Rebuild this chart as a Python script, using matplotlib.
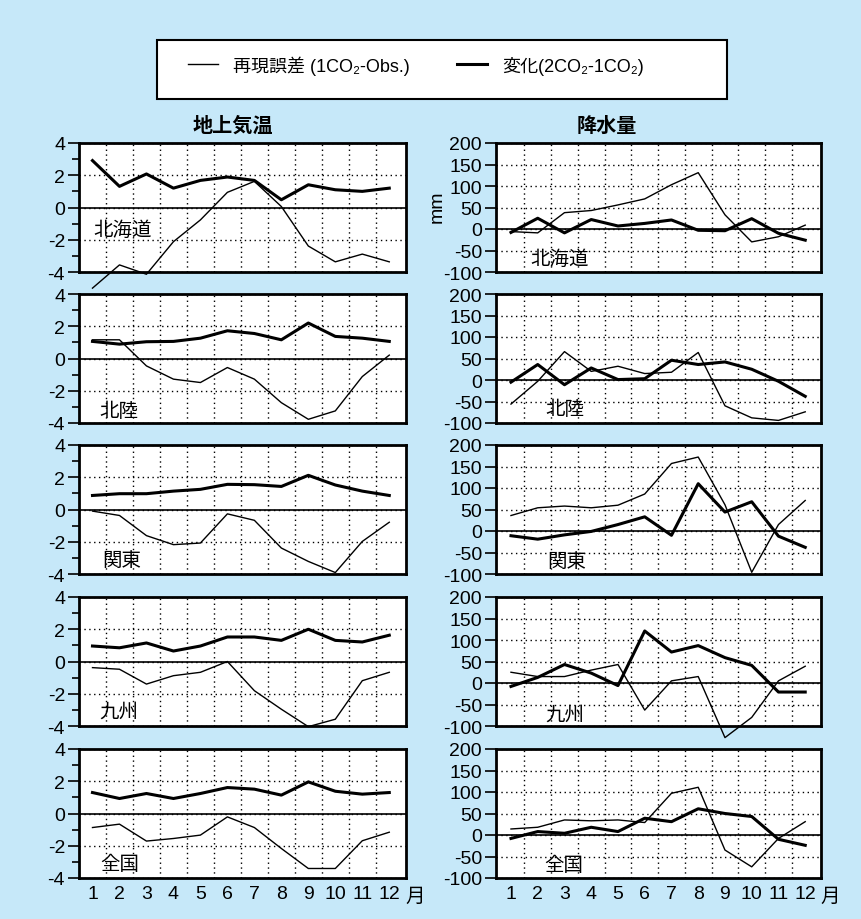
import matplotlib.pyplot as plt
import numpy as np
from matplotlib.patches import Rectangle
from matplotlib.lines import Line2D

plt.rcParams['font.family'] = ['Liberation Sans', 'Noto Sans CJK JP']
plt.rcParams['font.size'] = 14
plt.rcParams['axes.unicode_minus'] = False

months = np.arange(1, 13)
regions = ['北海道', '北陸', '関東', '九州', '全国']

# 地上気温 (degC): 再現誤差 (1CO2-Obs.) / 変化 (2CO2-1CO2)
t_err_hokkaido = [-5.0, -3.56, -4.14, -2.12, -0.77, 0.94, 1.62, 0.06, -2.39, -3.37, -2.89, -3.37]
t_chg_hokkaido = [2.91, 1.31, 2.08, 1.2, 1.68, 1.89, 1.68, 0.48, 1.41, 1.1, 1.0, 1.2]
t_err_hokuriku = [1.16, 1.16, -0.46, -1.28, -1.49, -0.56, -1.28, -2.74, -3.77, -3.25, -1.12, 0.21]
t_chg_hokuriku = [1.06, 0.89, 1.04, 1.06, 1.26, 1.72, 1.55, 1.16, 2.2, 1.37, 1.26, 1.06]
t_err_kanto = [-0.1, -0.37, -1.62, -2.18, -2.08, -0.27, -0.67, -2.39, -3.22, -3.91, -1.98, -0.79]
t_chg_kanto = [0.87, 0.98, 0.98, 1.14, 1.25, 1.56, 1.54, 1.43, 2.12, 1.52, 1.14, 0.87]
t_err_kyushu = [-0.38, -0.48, -1.4, -0.88, -0.67, 0.0, -1.81, -2.96, -4.04, -3.58, -1.19, -0.67]
t_chg_kyushu = [0.96, 0.85, 1.15, 0.65, 0.96, 1.52, 1.52, 1.31, 2.0, 1.31, 1.21, 1.63]
t_err_all = [-0.87, -0.66, -1.71, -1.55, -1.34, -0.21, -0.87, -2.17, -3.41, -3.41, -1.69, -1.16]
t_chg_all = [1.3, 0.93, 1.24, 0.93, 1.24, 1.61, 1.51, 1.14, 1.96, 1.38, 1.2, 1.3]

# 降水量 (mm)
p_err_hokkaido = [-6, -9, 38, 43, 56, 70, 103, 131, 33, -30, -18, 9]
p_chg_hokkaido = [-8, 25, -9, 22, 7, 13, 21, -3, -4, 24, -10, -26]
p_err_hokuriku = [-56, -3, 66, 20, 32, 15, 18, 64, -60, -88, -94, -74]
p_chg_hokuriku = [-5, 36, -11, 28, 1, 3, 46, 36, 42, 25, -3, -38]
p_err_kanto = [36, 54, 58, 54, 60, 86, 157, 172, 61, -96, 15, 71]
p_chg_kanto = [-11, -19, -9, -1, 15, 33, -10, 110, 44, 68, -12, -38]
p_err_kyushu = [25, 15, 15, 30, 43, -63, 5, 15, -127, -80, 5, 39]
p_chg_kyushu = [-8, 13, 43, 23, -6, 121, 72, 87, 59, 41, -21, -21]
p_err_all = [14, 18, 35, 33, 35, 29, 97, 111, -35, -74, -8, 31]
p_chg_all = [-8, 8, 4, 18, 8, 39, 31, 61, 50, 43, -10, -24]

t_err = [t_err_hokkaido, t_err_hokuriku, t_err_kanto, t_err_kyushu, t_err_all]
t_chg = [t_chg_hokkaido, t_chg_hokuriku, t_chg_kanto, t_chg_kyushu, t_chg_all]
p_err = [p_err_hokkaido, p_err_hokuriku, p_err_kanto, p_err_kyushu, p_err_all]
p_chg = [p_chg_hokkaido, p_chg_hokuriku, p_chg_kanto, p_chg_kyushu, p_chg_all]

# label positions (data coords)
lab_left = [(1.02, -1.4), (1.27, -3.25), (1.37, -3.16), (1.27, -3.1), (1.3, -3.14)]
lab_right = [(1.71, -68), (2.27, -67), (2.34, -69), (2.27, -75), (2.25, -70)]

bg = '#C6E8F9'
W, HF = 861, 920
fig = plt.figure(figsize=(W / 100, HF / 100), dpi=100, facecolor=bg)

grid_kw = dict(color='black', linestyle=(0, (1, 2.5)), linewidth=1.0)


def style(ax, xlim, ylim, yticks, minor=None, bottom=False):
    ax.set_facecolor('white')
    ax.set_xlim(*xlim)
    ax.set_ylim(*ylim)
    ax.set_xticks(months)
    ax.set_xticks(months[:-1] + 0.5, minor=True)
    ax.set_yticks(yticks)
    if minor is not None:
        ax.set_yticks(minor, minor=True)
    ax.tick_params(axis='x', which='both', length=0, pad=5, labelbottom=bottom)
    ax.tick_params(axis='y', which='major', length=8, width=1.2, pad=2)
    ax.tick_params(axis='y', which='minor', length=5, width=1.2)
    ax.grid(axis='x', which='minor', **grid_kw)
    ax.grid(axis='y', which='major', **grid_kw)
    ax.axhline(0, color='black', lw=1.2)
    for s in ax.spines.values():
        s.set_linewidth(2)
    if bottom:
        ax.text(12.95, -0.14, '月', transform=ax.get_xaxis_transform(),
                ha='center', va='center', fontsize=14)


tops = [144, 295, 446, 598, 750]
H = 129
for i, reg in enumerate(regions):
    b = 1 - (tops[i] + H) / HF
    axl = fig.add_axes([79 / W, b, 327 / W, H / HF])
    axr = fig.add_axes([496 / W, b, 325 / W, H / HF])
    last = i == len(regions) - 1

    style(axl, (0.5, 12.62), (-4, 4), [-4, -2, 0, 2, 4], [-3, -1, 1, 3], last)
    axl.plot(months, t_err[i], color='black', lw=1.0, clip_on=False)
    axl.plot(months, t_chg[i], color='black', lw=2.2, clip_on=False)
    axl.text(*lab_left[i], reg, ha='left', va='center', fontsize=14)

    style(axr, (0.44, 12.59), (-100, 200), [-100, -50, 0, 50, 100, 150, 200], None, last)
    axr.plot(months, p_err[i], color='black', lw=1.0, clip_on=False)
    axr.plot(months, p_chg[i], color='black', lw=2.2, clip_on=False)
    axr.text(*lab_right[i], reg, ha='left', va='center', fontsize=14)

# legend box
fig.patches.append(Rectangle((157 / W, 1 - 100 / HF), 570 / W, 59 / HF,
                             transform=fig.transFigure, facecolor='white',
                             edgecolor='black', lw=1.5, zorder=0))
handles = [Line2D([], [], color='black', lw=1.0), Line2D([], [], color='black', lw=2.2)]
labels = ['再現誤差 (1CO₂-Obs.)', '変化(2CO₂-1CO₂)']
fig.legend(handles, labels, loc='center left', bbox_to_anchor=(188 / W, 1 - 66 / HF),
           ncol=2, frameon=False, borderpad=0, borderaxespad=0,
           handlelength=1.65, handletextpad=0.85, columnspacing=2.6, fontsize=13)

fig.text(233 / W, 1 - 126 / HF, '地上気温', ha='center', va='center', fontsize=14.5, fontweight='bold')
fig.text(607 / W, 1 - 126 / HF, '降水量', ha='center', va='center', fontsize=14.5, fontweight='bold')
fig.text(437 / W, 1 - 207 / HF, 'mm', rotation=90, ha='center', va='center')

fig.savefig('out.png', dpi=100, facecolor=bg)
